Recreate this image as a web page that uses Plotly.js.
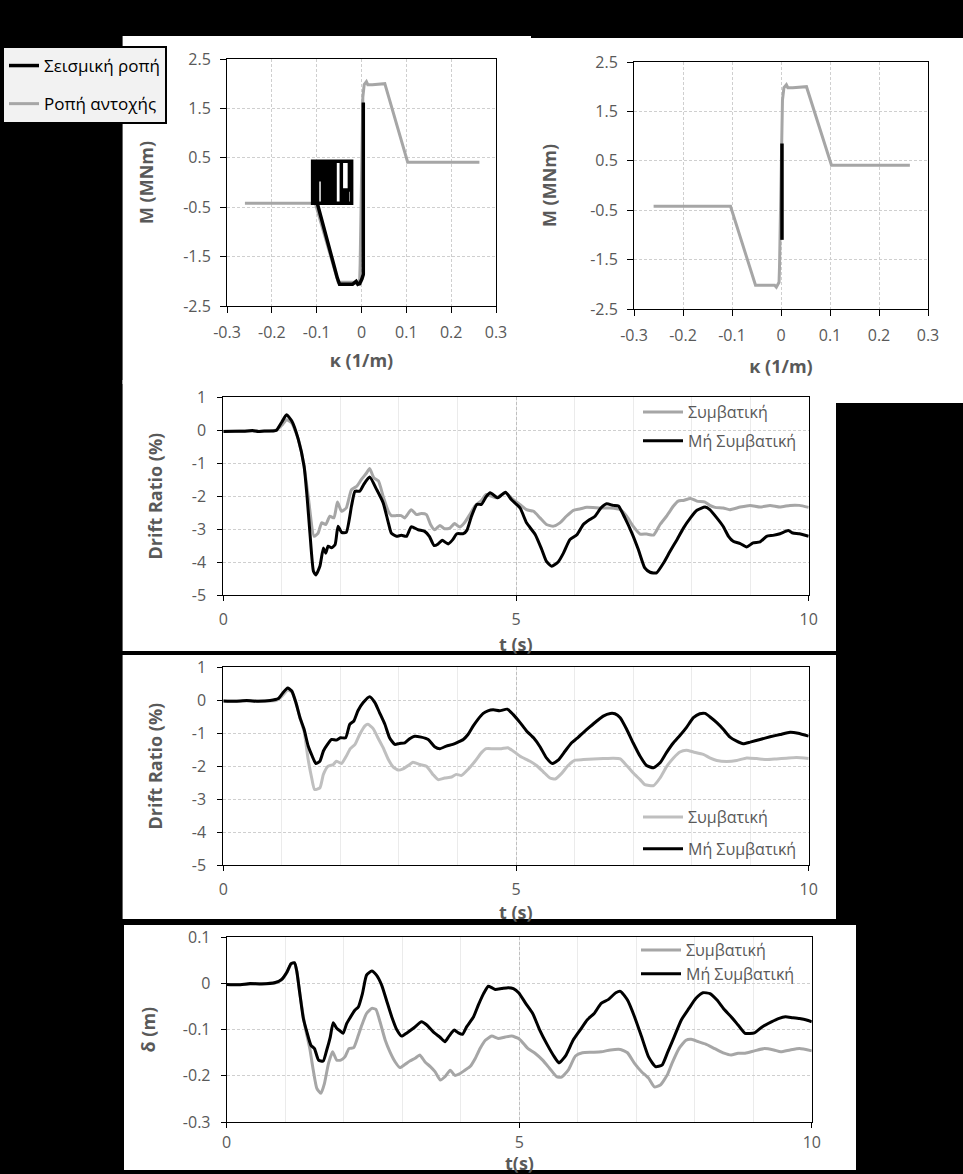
<!DOCTYPE html>
<html>
<head>
<meta charset="utf-8">
<script src="https://cdn.plot.ly/plotly-3.0.1.min.js"></script>
<style>html,body{margin:0;padding:0;background:#000;}#chart{width:963px;height:1174px;}</style>
</head>
<body>
<div id="chart"></div>
<script>
// ---------- Moment–curvature data ----------
const resistKappa = [-0.26,-0.103,-0.052,-0.013,-0.0095,-0.004,-0.003,0.001,0.003,0.006,0.011,0.014,0.024,0.052,0.103,0.263];
const resistM     = [-0.42,-0.42,-2.02,-2.02,-2.06,-1.96,-1.64,0.9,1.73,1.98,2.04,1.98,1.98,2.0,0.41,0.41];

const seismicKappaA = [0.004,0.004,0.001,-0.004,-0.008,-0.012,-0.016,-0.02,-0.049,-0.054,-0.098,-0.1,
  -0.109,-0.109,-0.022,-0.022,-0.109,
  -0.104,-0.104,-0.098,-0.098,-0.087,-0.087,-0.0926,-0.0926,-0.0926,-0.081,-0.081,-0.076,-0.076,-0.07,-0.07,-0.065,-0.065,-0.059,-0.059,
  -0.045,-0.045,-0.045,-0.041,-0.041,-0.036,-0.036,-0.031,-0.031,-0.027,-0.027];
const seismicMA = [1.62,-1.86,-1.95,-2.05,-2.06,-2.0,-2.03,-2.06,-2.06,-1.93,-0.44,-0.42,
  -0.42,0.43,0.43,-0.42,-0.42,
  -0.42,0.43,0.43,-0.42,-0.42,0.43,0.43,0.02,0.43,0.43,-0.42,-0.42,0.43,0.43,-0.42,-0.42,0.43,0.43,-0.42,
  -0.42,0.43,-0.42,-0.42,-0.15,-0.15,-0.42,-0.42,-0.15,-0.15,0.43];

const seismicKappaB = [0.002,0.002];
const seismicMB     = [-1.1,0.85];

const kappaTicks  = [-0.3,-0.2,-0.1,0,0.1,0.2,0.3];
const kappaLabels = ['-0.3','-0.2','-0.1','0','0.1','0.2','0.3'];
const mTicks  = [-2.5,-1.5,-0.5,0.5,1.5,2.5];
const mLabels = ['-2.5','-1.5','-0.5','0.5','1.5','2.5'];

// ---------- Drift ratio, case A ----------
const tA_conv = [0,0.2,0.4,0.6,0.8,0.9,1.0,1.08,1.17,1.28,1.38,1.45,1.55,1.62,1.68,1.75,1.82,1.89,1.95,2.02,2.1,2.19,2.28,2.36,2.45,2.5,2.57,2.65,2.73,2.82,2.87,2.96,3.04,3.1,3.21,3.3,3.38,3.47,3.54,3.61,3.7,3.78,3.87,3.95,4.04,4.12,4.21,4.3,4.41,4.49,4.58,4.66,4.82,4.92,5.07,5.18,5.3,5.41,5.52,5.64,5.75,5.86,5.98,6.09,6.21,6.44,6.61,6.78,6.89,7.0,7.12,7.23,7.35,7.46,7.57,7.69,7.77,7.86,7.98,8.09,8.23,8.31,8.4,8.54,8.65,8.83,9.0,9.17,9.34,9.51,9.68,9.84,10.0];
const drA_conv = [-0.03,-0.03,-0.02,-0.03,-0.02,0.0,0.15,0.32,0.22,-0.27,-1.09,-2.0,-3.22,-3.12,-2.81,-2.86,-2.61,-2.66,-2.18,-2.46,-2.36,-1.8,-1.7,-1.49,-1.29,-1.16,-1.44,-1.54,-2.0,-2.46,-2.59,-2.59,-2.59,-2.66,-2.41,-2.56,-2.53,-2.56,-2.86,-3.02,-2.89,-2.99,-2.97,-2.83,-2.94,-2.81,-2.56,-2.3,-2.13,-1.95,-2.0,-2.05,-1.9,-2.05,-2.26,-2.41,-2.46,-2.66,-2.86,-2.91,-2.81,-2.61,-2.43,-2.39,-2.34,-2.36,-2.36,-2.41,-2.61,-2.91,-3.15,-3.15,-3.18,-2.86,-2.61,-2.3,-2.15,-2.13,-2.07,-2.15,-2.18,-2.28,-2.34,-2.36,-2.41,-2.33,-2.28,-2.33,-2.28,-2.33,-2.28,-2.28,-2.34];
const tA_non = [0,0.2,0.35,0.5,0.6,0.7,0.85,0.91,1.0,1.08,1.17,1.28,1.38,1.43,1.48,1.54,1.58,1.65,1.71,1.75,1.79,1.85,1.91,1.96,2.02,2.1,2.19,2.25,2.33,2.4,2.5,2.62,2.73,2.82,2.87,2.96,3.04,3.13,3.21,3.33,3.44,3.52,3.6,3.67,3.74,3.84,3.92,3.99,4.1,4.16,4.24,4.33,4.41,4.49,4.56,4.69,4.82,4.92,5.07,5.18,5.33,5.44,5.52,5.61,5.72,5.81,5.92,6.04,6.15,6.26,6.35,6.45,6.55,6.66,6.75,6.86,6.98,7.09,7.2,7.29,7.4,7.52,7.63,7.75,7.86,7.98,8.09,8.23,8.31,8.43,8.54,8.63,8.71,8.83,8.94,9.05,9.17,9.28,9.39,9.51,9.65,9.73,9.84,10.0];
const drA_non = [-0.04,-0.03,-0.03,-0.01,-0.04,-0.02,-0.02,0.0,0.25,0.47,0.28,-0.27,-1.09,-2.0,-3.12,-4.28,-4.39,-4.13,-3.57,-3.73,-3.52,-3.57,-3.47,-2.91,-3.1,-3.1,-2.3,-1.85,-1.85,-1.64,-1.42,-1.8,-2.2,-2.81,-3.12,-3.22,-3.19,-3.22,-2.93,-3.02,-3.07,-3.22,-3.5,-3.45,-3.34,-3.45,-3.32,-3.14,-3.14,-3.04,-2.61,-2.25,-2.25,-2.02,-1.9,-2.05,-1.88,-2.1,-2.36,-2.81,-3.17,-3.62,-3.98,-4.13,-4.0,-3.73,-3.32,-3.17,-2.86,-2.71,-2.61,-2.36,-2.23,-2.28,-2.3,-2.66,-3.12,-3.62,-4.18,-4.31,-4.33,-4.03,-3.68,-3.32,-2.97,-2.66,-2.43,-2.33,-2.41,-2.66,-2.92,-3.22,-3.37,-3.44,-3.54,-3.42,-3.39,-3.22,-3.19,-3.14,-3.04,-3.12,-3.14,-3.22];

// ---------- Drift ratio, case B ----------
const tB_conv = [0,0.3,0.6,0.9,1.0,1.1,1.17,1.24,1.31,1.38,1.45,1.51,1.56,1.65,1.71,1.79,1.88,1.93,2.02,2.1,2.17,2.25,2.33,2.42,2.47,2.56,2.65,2.73,2.82,2.9,2.99,3.07,3.16,3.24,3.36,3.47,3.58,3.67,3.78,3.9,3.98,4.07,4.18,4.3,4.41,4.49,4.61,4.75,4.86,4.95,5.07,5.24,5.35,5.47,5.58,5.67,5.78,5.89,6.01,6.15,6.32,6.49,6.66,6.78,6.89,7.0,7.12,7.2,7.35,7.46,7.57,7.69,7.8,7.91,8.03,8.2,8.31,8.43,8.6,8.77,8.94,9.11,9.28,9.45,9.62,9.79,10.0];
const drB_conv = [-0.02,-0.02,-0.02,-0.01,0.12,0.3,0.25,-0.07,-0.53,-0.95,-1.8,-2.36,-2.71,-2.66,-2.25,-2.0,-1.95,-1.85,-1.92,-1.7,-1.47,-1.34,-1.04,-0.78,-0.73,-0.86,-1.17,-1.44,-1.8,-2.02,-2.12,-2.08,-1.98,-1.88,-1.95,-2.0,-2.25,-2.41,-2.36,-2.33,-2.25,-2.28,-2.1,-1.85,-1.59,-1.47,-1.47,-1.47,-1.44,-1.54,-1.7,-1.85,-1.98,-2.18,-2.36,-2.39,-2.22,-1.98,-1.82,-1.8,-1.78,-1.77,-1.76,-1.78,-1.98,-2.2,-2.41,-2.56,-2.59,-2.36,-2.02,-1.75,-1.57,-1.52,-1.57,-1.64,-1.75,-1.83,-1.86,-1.83,-1.75,-1.77,-1.8,-1.78,-1.76,-1.74,-1.77];
const tB_non = [0,0.2,0.4,0.6,0.8,0.94,1.02,1.1,1.17,1.24,1.31,1.38,1.45,1.52,1.58,1.65,1.71,1.78,1.85,1.93,2.0,2.09,2.16,2.23,2.3,2.39,2.5,2.59,2.67,2.76,2.84,2.93,3.01,3.1,3.19,3.27,3.38,3.5,3.61,3.7,3.81,3.92,4.01,4.1,4.18,4.27,4.35,4.44,4.52,4.61,4.72,4.85,4.95,5.07,5.18,5.3,5.41,5.52,5.62,5.72,5.84,5.95,6.04,6.15,6.26,6.38,6.49,6.61,6.69,6.78,6.89,7.0,7.12,7.23,7.35,7.46,7.57,7.69,7.8,7.91,8.03,8.14,8.23,8.31,8.43,8.54,8.65,8.77,8.88,9.0,9.17,9.34,9.51,9.68,9.82,10.0];
const drB_non = [-0.02,-0.03,-0.01,-0.03,-0.01,0.05,0.23,0.37,0.28,-0.07,-0.53,-0.88,-1.39,-1.7,-1.92,-1.85,-1.54,-1.34,-1.19,-1.21,-1.14,-1.14,-0.73,-0.63,-0.32,-0.07,0.11,-0.07,-0.38,-0.73,-1.14,-1.34,-1.31,-1.29,-1.16,-1.09,-1.12,-1.19,-1.41,-1.47,-1.39,-1.34,-1.27,-1.19,-1.04,-0.78,-0.58,-0.4,-0.32,-0.29,-0.32,-0.27,-0.43,-0.68,-0.93,-1.14,-1.41,-1.75,-1.92,-1.82,-1.54,-1.29,-1.16,-0.98,-0.81,-0.63,-0.48,-0.4,-0.41,-0.53,-0.88,-1.29,-1.7,-1.98,-2.05,-1.9,-1.59,-1.29,-1.07,-0.83,-0.53,-0.41,-0.4,-0.5,-0.68,-0.88,-1.11,-1.24,-1.32,-1.27,-1.19,-1.11,-1.04,-0.97,-1.0,-1.09];

// ---------- Displacement δ ----------
const tD_conv = [0,0.3,0.6,0.8,0.94,1.03,1.1,1.16,1.2,1.25,1.34,1.42,1.48,1.54,1.61,1.67,1.74,1.81,1.88,1.95,2.02,2.09,2.17,2.24,2.31,2.39,2.48,2.55,2.62,2.71,2.79,2.88,2.96,3.05,3.13,3.22,3.3,3.39,3.48,3.56,3.65,3.73,3.82,3.9,3.99,4.07,4.16,4.25,4.33,4.42,4.53,4.64,4.76,4.87,5.0,5.15,5.27,5.4,5.52,5.64,5.72,5.84,5.96,6.08,6.24,6.4,6.56,6.73,6.85,6.97,7.09,7.21,7.31,7.41,7.53,7.61,7.73,7.85,7.94,8.06,8.18,8.34,8.5,8.62,8.74,8.86,9.02,9.19,9.35,9.47,9.63,9.79,10.0];
const dD_conv = [-0.002,-0.002,0.0,0.0,0.008,0.024,0.042,0.044,0.025,-0.022,-0.094,-0.141,-0.188,-0.227,-0.238,-0.217,-0.173,-0.148,-0.166,-0.166,-0.159,-0.141,-0.139,-0.116,-0.09,-0.065,-0.054,-0.056,-0.083,-0.123,-0.148,-0.17,-0.182,-0.175,-0.168,-0.162,-0.155,-0.17,-0.18,-0.191,-0.209,-0.202,-0.188,-0.199,-0.195,-0.188,-0.18,-0.162,-0.141,-0.123,-0.114,-0.119,-0.116,-0.114,-0.12,-0.141,-0.151,-0.166,-0.184,-0.202,-0.203,-0.187,-0.157,-0.15,-0.149,-0.148,-0.144,-0.143,-0.15,-0.173,-0.191,-0.205,-0.224,-0.22,-0.198,-0.173,-0.141,-0.123,-0.121,-0.126,-0.131,-0.141,-0.151,-0.155,-0.151,-0.151,-0.146,-0.141,-0.144,-0.148,-0.144,-0.141,-0.146];
const tD_non = [0,0.2,0.4,0.6,0.83,0.94,1.03,1.1,1.16,1.2,1.25,1.31,1.37,1.44,1.5,1.57,1.65,1.71,1.77,1.82,1.88,1.94,1.99,2.05,2.11,2.19,2.25,2.32,2.39,2.48,2.56,2.65,2.74,2.82,2.91,2.99,3.08,3.19,3.33,3.42,3.53,3.65,3.73,3.8,3.89,3.96,4.03,4.1,4.22,4.3,4.39,4.47,4.53,4.59,4.7,4.81,4.9,4.99,5.11,5.23,5.35,5.48,5.6,5.68,5.8,5.92,6.04,6.16,6.28,6.4,6.52,6.65,6.73,6.85,6.97,7.09,7.21,7.33,7.44,7.53,7.65,7.77,7.9,8.02,8.14,8.26,8.38,8.5,8.62,8.74,8.86,9.02,9.15,9.31,9.43,9.55,9.67,9.79,9.91,10.0];
const dD_non = [-0.002,-0.003,0.0,-0.001,0.002,0.009,0.025,0.043,0.045,0.025,-0.022,-0.076,-0.105,-0.134,-0.141,-0.166,-0.168,-0.144,-0.116,-0.085,-0.097,-0.103,-0.108,-0.087,-0.074,-0.058,-0.051,-0.022,0.018,0.027,0.018,-0.004,-0.04,-0.072,-0.101,-0.114,-0.107,-0.097,-0.083,-0.09,-0.105,-0.117,-0.126,-0.114,-0.101,-0.107,-0.11,-0.094,-0.072,-0.047,-0.022,-0.006,-0.009,-0.013,-0.011,-0.009,-0.011,-0.02,-0.043,-0.065,-0.101,-0.133,-0.159,-0.172,-0.155,-0.123,-0.101,-0.079,-0.065,-0.043,-0.035,-0.02,-0.017,-0.036,-0.072,-0.115,-0.159,-0.18,-0.177,-0.151,-0.115,-0.079,-0.054,-0.032,-0.02,-0.022,-0.036,-0.056,-0.072,-0.09,-0.108,-0.107,-0.094,-0.083,-0.076,-0.072,-0.074,-0.076,-0.079,-0.083];

const tTicks = [0,5,10];
const tLabels = ['0','5','10'];
const drTicks = [-5,-4,-3,-2,-1,0,1];
const drLabels = ['-5','-4','-3','-2','-1','0','1'];
const dTicks = [-0.3,-0.2,-0.1,0,0.1];
const dLabels = ['-0.3','-0.2','-0.1','0','0.1'];

const nameSeismic = 'Σεισμική ροπή';
const nameResist = 'Ροπή αντοχής';
const nameConv = 'Συμβατική';
const nameNon = 'Μή Συμβατική';
const titleT1 = 't (s)';
const titleT2 = 't(s)';

// ---------- layout helpers ----------
const W = 963, H = 1174;
const X = p => p / W;
const Y = p => 1 - p / H;
const FONT = 'Open Sans, Noto Sans, DejaVu Sans, sans-serif';
const GRAYTXT = '#595959';
const tickFont = {family: FONT, size: 16, color: GRAYTXT};
const titleFont = {family: FONT, size: 18, color: GRAYTXT, weight: 'bold'};

function baseAxis(extra) {
  return Object.assign({
    showline: true, linecolor: '#000', linewidth: 1, mirror: true,
    ticks: 'outside', ticklen: 5, tickcolor: '#000', tickwidth: 1,
    tickfont: tickFont, zeroline: false, automargin: false,
    showgrid: true, gridcolor: '#cfcfcf', griddash: '3px,2px', gridwidth: 1,
    fixedrange: true
  }, extra);
}

const traces = [
  {x: resistKappa, y: resistM, xaxis: 'x', yaxis: 'y', mode: 'lines', name: nameResist,
   line: {color: '#a6a6a6', width: 3}, legend: 'legend', legendgroup: 'r', legendrank: 2},
  {x: seismicKappaA, y: seismicMA, xaxis: 'x', yaxis: 'y', mode: 'lines', name: nameSeismic,
   line: {color: '#000', width: 3.5}, legend: 'legend', legendgroup: 's', legendrank: 1},
  {x: resistKappa, y: resistM, xaxis: 'x2', yaxis: 'y2', mode: 'lines', name: nameResist,
   line: {color: '#a6a6a6', width: 3}, showlegend: false},
  {x: seismicKappaB, y: seismicMB, xaxis: 'x2', yaxis: 'y2', mode: 'lines', name: nameSeismic,
   line: {color: '#000', width: 3.5}, showlegend: false},

  {x: tA_conv, y: drA_conv, xaxis: 'x3', yaxis: 'y3', mode: 'lines', name: nameConv,
   line: {color: '#a6a6a6', width: 3, shape: 'spline', smoothing: 0.5}, legend: 'legend2', legendgroup: 'c3'},
  {x: tA_non, y: drA_non, xaxis: 'x3', yaxis: 'y3', mode: 'lines', name: nameNon,
   line: {color: '#000', width: 3, shape: 'spline', smoothing: 0.5}, legend: 'legend2', legendgroup: 'n3'},

  {x: tB_conv, y: drB_conv, xaxis: 'x4', yaxis: 'y4', mode: 'lines', name: nameConv,
   line: {color: '#bfbfbf', width: 3, shape: 'spline', smoothing: 0.5}, legend: 'legend3', legendgroup: 'c4'},
  {x: tB_non, y: drB_non, xaxis: 'x4', yaxis: 'y4', mode: 'lines', name: nameNon,
   line: {color: '#000', width: 3, shape: 'spline', smoothing: 0.5}, legend: 'legend3', legendgroup: 'n4'},

  {x: tD_conv, y: dD_conv, xaxis: 'x5', yaxis: 'y5', mode: 'lines', name: nameConv,
   line: {color: '#a6a6a6', width: 3, shape: 'spline', smoothing: 0.5}, legend: 'legend4', legendgroup: 'c5'},
  {x: tD_non, y: dD_non, xaxis: 'x5', yaxis: 'y5', mode: 'lines', name: nameNon,
   line: {color: '#000', width: 3, shape: 'spline', smoothing: 0.5}, legend: 'legend4', legendgroup: 'n5'}
];

function rect(x0, y0, x1, y1) {
  return {type: 'rect', xref: 'paper', yref: 'paper', x0: X(x0), x1: X(x1), y0: Y(y1), y1: Y(y0),
          fillcolor: '#fff', line: {width: 0}, layer: 'below'};
}

const kAxis = (dom, standoff) => baseAxis({
  domain: dom, range: [-0.3, 0.3], tickvals: kappaTicks, ticktext: kappaLabels, ticklen: 6,
  ticklabelstandoff: 6, title: {text: 'κ (1/m)', font: titleFont, standoff: standoff}
});
const mAxis = (dom, standoff) => baseAxis({
  domain: dom, range: [-2.5, 2.5], tickvals: mTicks, ticktext: mLabels, ticklen: 6,
  ticklabelstandoff: 6, title: {text: 'M (MNm)', font: titleFont, standoff: standoff}
});
const tAxis = (dom, lblStandoff) => baseAxis({
  domain: dom, range: [0, 10], tickvals: tTicks, ticktext: tLabels,
  gridcolor: '#bfbfbf', ticklabelstandoff: lblStandoff,
  minor: {dtick: 1, tick0: 0, showgrid: true, gridcolor: '#ebebeb', griddash: 'solid', ticks: ''}
});

const legendCommon = {
  xanchor: 'left', yanchor: 'top', orientation: 'v', traceorder: 'grouped',
  bgcolor: 'rgba(0,0,0,0)', borderwidth: 0, itemwidth: 40,
  font: {family: FONT, size: 16, color: GRAYTXT}
};

function tTitle(text, xc, yc) {
  return {text: text, xref: 'paper', yref: 'paper', x: X(xc), y: Y(yc), xanchor: 'center', yanchor: 'middle',
          showarrow: false, font: titleFont};
}

const layout = {
  width: W, height: H,
  margin: {l: 0, r: 0, t: 0, b: 0, pad: 0},
  paper_bgcolor: '#000', plot_bgcolor: '#fff',
  showlegend: true,
  shapes: [
    rect(122.6, 36, 531, 384),
    rect(531, 38, 963, 403),
    rect(122.6, 380, 836, 651),
    rect(122.6, 655, 836, 919),
    rect(124, 925, 856, 1170)
  ],
  annotations: [
    tTitle(titleT1, 516, 644),
    tTitle(titleT1, 516, 912),
    tTitle(titleT2, 519, 1163)
  ],
  xaxis: Object.assign(kAxis([X(227), X(496)], 12), {anchor: 'y'}),
  yaxis: Object.assign(mAxis([Y(306), Y(59)], 24), {anchor: 'x'}),
  xaxis2: Object.assign(kAxis([X(634), X(928)], 15), {anchor: 'y2'}),
  yaxis2: Object.assign(mAxis([Y(309), Y(62)], 28), {anchor: 'x2'}),
  xaxis3: Object.assign(tAxis([X(223.3), X(808.7)], 5), {anchor: 'y3'}),
  yaxis3: baseAxis({anchor: 'x3', domain: [Y(595), Y(397.3)], range: [-5, 1], tickvals: drTicks, ticktext: drLabels,
    ticklabelstandoff: 8, title: {text: 'Drift Ratio (%)', font: titleFont, standoff: 24}}),
  xaxis4: Object.assign(tAxis([X(223.3), X(808.7)], 5), {anchor: 'y4'}),
  yaxis4: baseAxis({anchor: 'x4', domain: [Y(865), Y(667.3)], range: [-5, 1], tickvals: drTicks, ticktext: drLabels,
    ticklabelstandoff: 8, title: {text: 'Drift Ratio (%)', font: titleFont, standoff: 24}}),
  xaxis5: Object.assign(tAxis([X(226.7), X(811.8)], 1), {anchor: 'y5'}),
  yaxis5: baseAxis({anchor: 'x5', domain: [Y(1122), Y(937.3)], range: [-0.3, 0.1], tickvals: dTicks, ticktext: dLabels,
    ticklabelstandoff: 7, title: {text: 'δ (m)', font: titleFont, standoff: 22}}),
  legend: Object.assign({}, legendCommon, {
    x: X(2), y: Y(46), bgcolor: '#f2f2f2', bordercolor: '#000', borderwidth: 2, itemwidth: 30,
    tracegroupgap: 13, font: {family: FONT, size: 17, color: '#000'}
  }),
  legend2: Object.assign({}, legendCommon, {x: X(638), y: Y(395), tracegroupgap: 5}),
  legend3: Object.assign({}, legendCommon, {x: X(638), y: Y(800), tracegroupgap: 8}),
  legend4: Object.assign({}, legendCommon, {x: X(636), y: Y(933), tracegroupgap: 0})
};

Plotly.newPlot('chart', traces, layout, {displayModeBar: false, staticPlot: true});
</script>
</body>
</html>
